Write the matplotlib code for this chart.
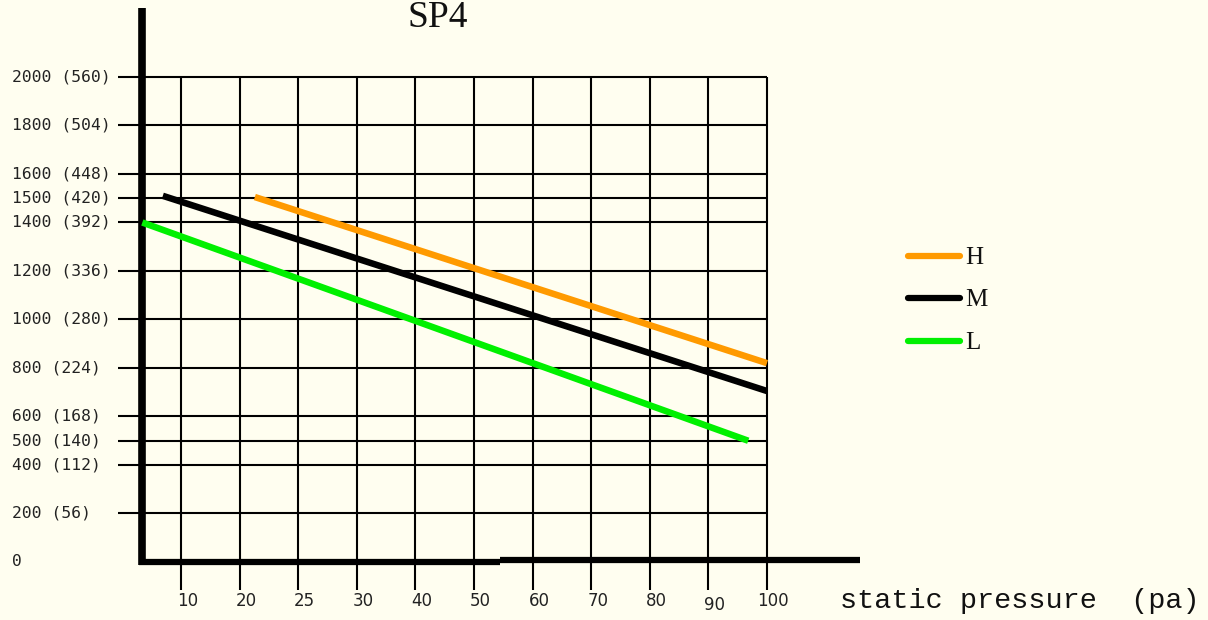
import matplotlib.pyplot as plt

# x axis: static pressure (pa), grid columns are evenly spaced, labels are not
x_labels = ["10", "20", "25", "30", "40", "50", "60", "70", "80", "90", "100"]
x_pos = [1, 2, 3, 4, 5, 6, 7, 8, 9, 10, 11]

# y axis: airflow, first number with the second unit in brackets
y_pos = [2000, 1800, 1600, 1500, 1400, 1200, 1000, 800, 600, 500, 400, 200, 0]
y_labels = ["2000 (560)", "1800 (504)", "1600 (448)", "1500 (420)", "1400 (392)",
            "1200 (336)", "1000 (280)", "800 (224)", "600 (168)", "500 (140)",
            "400 (112)", "200 (56)", "0"]

# speed curves (start, end) in grid column / airflow units
h_x = [2.26, 11.0]
h_y = [1505, 820]
m_x = [0.69, 11.0]
m_y = [1510, 705]
l_x = [0.34, 10.68]
l_y = [1400, 500]

series_names = ["H", "M", "L"]
series_colors = ["#FF9A00", "black", "#00F000"]

bg = "#FFFEF0"
fig = plt.figure(figsize=(12.08, 6.2), dpi=100, facecolor=bg)
ax = fig.add_axes([0, 0, 1, 1])
ax.set_facecolor(bg)
ax.set_xlim(-2.0887, 18.526)
ax.set_ylim(-239.2, 2317.5)
ax.axis("off")

# grid: horizontal lines run through the axis as tick marks
for v in y_pos:
    if v == 0:
        continue
    ax.plot([-0.075, 11], [v, v], color="black", lw=1.5, solid_capstyle="butt")
# vertical lines run below the axis as tick marks
for xp in x_pos:
    ax.plot([xp, xp], [2000, -115], color="black", lw=1.5, solid_capstyle="butt")

# thick axes
ax.plot([0.334, 0.334], [-12, 2284], color="black", lw=5.5, solid_capstyle="butt")
ax.plot([0.29, 6.44], [0, 0], color="black", lw=4.5, solid_capstyle="butt")
ax.plot([6.44, 12.587], [10, 10], color="black", lw=4.5, solid_capstyle="butt")

# curves
ax.plot(h_x, h_y, color=series_colors[0], lw=4.7, solid_capstyle="butt")
ax.plot(m_x, m_y, color=series_colors[1], lw=4.7, solid_capstyle="butt")
ax.plot(l_x, l_y, color=series_colors[2], lw=4.7, solid_capstyle="butt")

# tick labels
for v, lab in zip(y_pos, y_labels):
    ax.text(-1.884, v, lab, ha="left", va="center", fontsize=11.8,
            family="DejaVu Sans Mono", color="#222222")
for xp, lab in zip(x_pos, x_labels):
    yy = -177 if lab == "90" else -161
    ax.text(xp + 0.11, yy, lab, ha="center", va="center", fontsize=12,
            family="DejaVu Sans", color="#222222")

# title and axis name
ax.text(5.386, 2206, "SP4", ha="center", va="baseline", fontsize=27,
        family="Liberation Serif", color="#111111")
ax.text(12.246, -161, "static pressure  (pa)", ha="left", va="center",
        fontsize=20.5, family="Liberation Mono", color="#111111")

# legend
leg_y = [1262, 1089, 911]
for name, col, ly in zip(series_names, series_colors, leg_y):
    ax.plot([13.406, 14.294], [ly, ly], color=col, lw=4.5, solid_capstyle="round")
    ax.text(14.38, ly - 8, name, ha="left", va="center", fontsize=18,
            family="Liberation Serif", color="#111111")

fig.savefig("out.png", dpi=100, facecolor=bg)
